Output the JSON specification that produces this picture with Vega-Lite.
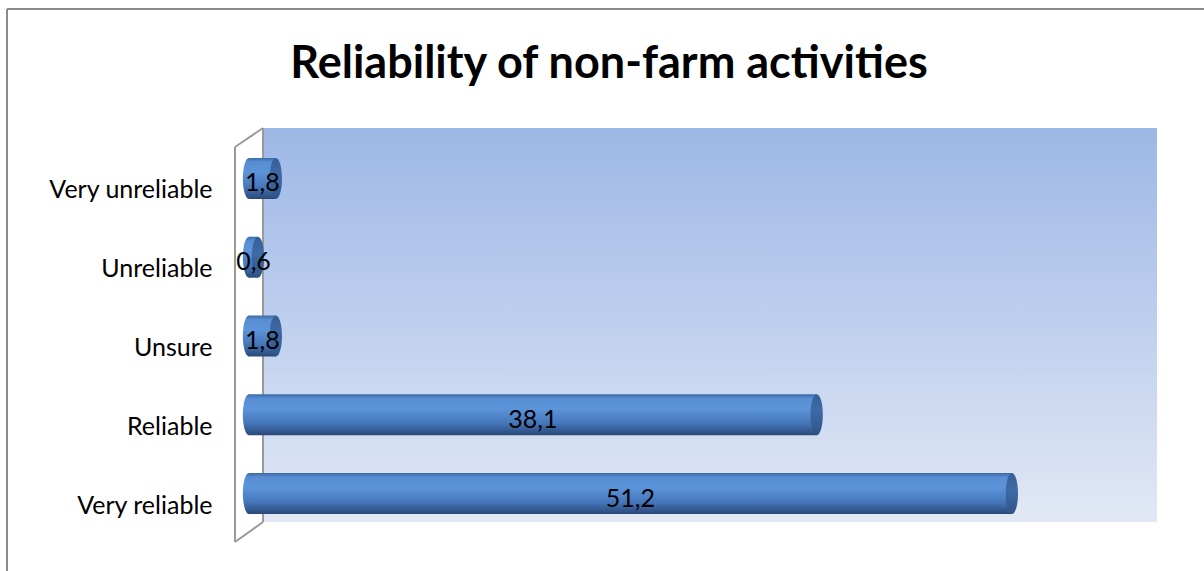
{
  "$schema": "https://vega.github.io/schema/vega-lite/v6.json",
  "width": 894,
  "height": 394,
  "autosize": {"type": "none"},
  "padding": {"left": 263, "top": 128, "right": 47, "bottom": 49},
  "background": "white",
  "config": {
    "font": "Lato",
    "locale": {"number": {"decimal": ",", "thousands": ".", "grouping": [3], "currency": ["", " €"]}},
    "view": {
      "stroke": null,
      "fill": {
        "gradient": "linear", "x1": 0, "y1": 0, "x2": 0, "y2": 1,
        "stops": [
          {"offset": 0, "color": "#9db7e6"},
          {"offset": 0.5, "color": "#bfd0ee"},
          {"offset": 1, "color": "#e2e8f5"}
        ]
      }
    }
  },
  "title": {
    "text": "Reliability of non-farm activities",
    "font": "Lato",
    "fontSize": 45,
    "fontWeight": "bold",
    "color": "#000000",
    "anchor": "middle",
    "frame": "group",
    "baseline": "alphabetic",
    "dx": -101,
    "offset": -115
  },
  "data": {
    "values": [
      {"rating": "Very unreliable", "value": 1.8},
      {"rating": "Unreliable", "value": 0.6},
      {"rating": "Unsure", "value": 1.8},
      {"rating": "Reliable", "value": 38.1},
      {"rating": "Very reliable", "value": 51.2}
    ]
  },
  "resolve": {"scale": {"y": "independent"}, "axis": {"y": "independent"}},
  "layer": [
    {
      "data": {"values": [{}]},
      "encoding": {
        "x": {"datum": 0, "type": "quantitative", "scale": {"domain": [0, 60], "nice": false, "zero": true}, "axis": null},
        "y": {"datum": 0, "type": "quantitative", "scale": {"domain": [0, 1], "nice": false}, "axis": null},
        "y2": {"datum": 1}
      },
      "layer": [
        {"mark": {"type": "rule", "color": "#9a9a9a", "strokeWidth": 2}},
        {"mark": {"type": "rule", "color": "#9a9a9a", "strokeWidth": 2, "xOffset": -28, "yOffset": 20, "y2Offset": 19}},
        {
          "mark": {"type": "rule", "color": "#9a9a9a", "strokeWidth": 2, "x2Offset": -28, "y2Offset": 19},
          "encoding": {"x2": {"datum": 0}, "y": {"datum": 1, "type": "quantitative"}, "y2": {"datum": 1}}
        },
        {
          "mark": {"type": "rule", "color": "#9a9a9a", "strokeWidth": 2, "x2Offset": -28, "y2Offset": 20},
          "encoding": {"x2": {"datum": 0}, "y": {"datum": 0, "type": "quantitative"}, "y2": {"datum": 0}}
        },
        {
          "mark": {"type": "rule", "color": "#8c8c8c", "strokeWidth": 2, "xOffset": -256, "x2Offset": 47, "yOffset": -119, "y2Offset": -119},
          "encoding": {"x2": {"datum": 60}, "y": {"datum": 1, "type": "quantitative"}, "y2": {"datum": 1}}
        },
        {
          "mark": {"type": "rule", "color": "#8c8c8c", "strokeWidth": 2, "xOffset": -256, "yOffset": -119, "y2Offset": 49},
          "encoding": {"y": {"datum": 1, "type": "quantitative"}, "y2": {"datum": 0}}
        }
      ]
    },
    {
      "encoding": {
        "y": {
          "field": "rating",
          "type": "nominal",
          "sort": ["Very unreliable", "Unreliable", "Unsure", "Reliable", "Very reliable"],
          "scale": {"paddingInner": 0.48, "paddingOuter": 0.24},
          "axis": {
            "orient": "left",
            "title": null,
            "domain": false,
            "ticks": false,
            "labelFont": "Lato",
            "labelFontSize": 25,
            "labelColor": "#000000",
            "labelPadding": 51,
            "labelOffset": 23
          }
        }
      },
      "layer": [
        {
          "mark": {
            "type": "point",
            "filled": true,
            "size": 1681,
            "opacity": 1,
            "strokeWidth": 0,
            "xOffset": -14,
            "yOffset": 11,
            "shape": "M0,-1C0.1657,-1,0.3,-0.5523,0.3,0C0.3,0.5523,0.1657,1,0,1C-0.1657,1,-0.3,0.5523,-0.3,0C-0.3,-0.5523,-0.1657,-1,0,-1Z",
            "fill": {
              "gradient": "linear", "x1": 0, "y1": 0, "x2": 0, "y2": 1,
              "stops": [
                {"offset": 0, "color": "#3c6aa6"},
                {"offset": 0.1, "color": "#578dd3"},
                {"offset": 0.35, "color": "#5c94da"},
                {"offset": 0.7, "color": "#4677bb"},
                {"offset": 0.9, "color": "#33588f"},
                {"offset": 1, "color": "#2a4875"}
              ]
            }
          },
          "encoding": {"x": {"datum": 0, "type": "quantitative", "scale": {"domain": [0, 60], "nice": false}, "axis": null}}
        },
        {
          "mark": {
            "type": "bar",
            "xOffset": -14,
            "x2Offset": -14,
            "yOffset": 11,
            "fill": {
              "gradient": "linear", "x1": 0, "y1": 0, "x2": 0, "y2": 1,
              "stops": [
                {"offset": 0, "color": "#3c6aa6"},
                {"offset": 0.1, "color": "#578dd3"},
                {"offset": 0.35, "color": "#5c94da"},
                {"offset": 0.7, "color": "#4677bb"},
                {"offset": 0.9, "color": "#33588f"},
                {"offset": 1, "color": "#2a4875"}
              ]
            }
          },
          "encoding": {"x": {"field": "value", "type": "quantitative", "scale": {"domain": [0, 60], "nice": false}, "axis": null}}
        },
        {
          "mark": {
            "type": "point",
            "filled": true,
            "size": 1681,
            "opacity": 1,
            "strokeWidth": 0,
            "xOffset": -14,
            "yOffset": 11,
            "shape": "M0,-1C0.1657,-1,0.3,-0.5523,0.3,0C0.3,0.5523,0.1657,1,0,1C-0.1657,1,-0.3,0.5523,-0.3,0C-0.3,-0.5523,-0.1657,-1,0,-1Z",
            "fill": {
              "gradient": "linear", "x1": 0, "y1": 0, "x2": 0, "y2": 1,
              "stops": [
                {"offset": 0, "color": "#365f97"},
                {"offset": 0.4, "color": "#3e6aa6"},
                {"offset": 1, "color": "#2f5488"}
              ]
            }
          },
          "encoding": {"x": {"field": "value", "type": "quantitative", "scale": {"domain": [0, 60], "nice": false}, "axis": null}}
        },
        {
          "transform": [{"calculate": "datum.value / 2", "as": "mid"}],
          "mark": {"type": "text", "font": "Lato", "fontSize": 25, "color": "#000000", "align": "center", "baseline": "middle", "xOffset": -14, "yOffset": 16},
          "encoding": {
            "x": {"field": "mid", "type": "quantitative", "scale": {"domain": [0, 60], "nice": false}, "axis": null},
            "text": {"field": "value", "type": "quantitative", "format": ".1f"}
          }
        }
      ]
    }
  ]
}
